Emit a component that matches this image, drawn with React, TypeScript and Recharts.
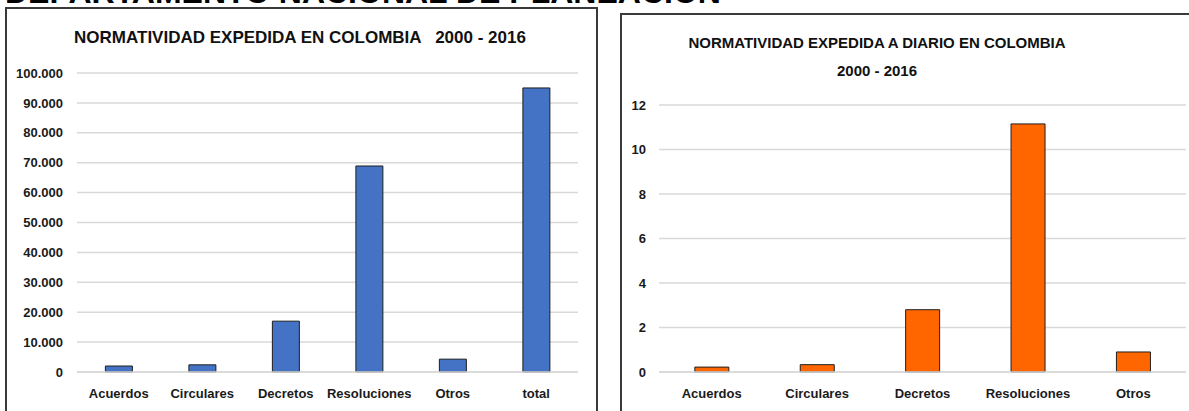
import { BarChart, Bar, XAxis, YAxis, CartesianGrid } from "recharts";

const categories = ["Acuerdos", "Circulares", "Decretos", "Resoluciones", "Otros", "total"];
const totalValues = [2000, 2400, 17000, 68900, 4300, 95000];
const totalTicks = [0, 10000, 20000, 30000, 40000, 50000, 60000, 70000, 80000, 90000, 100000];

const dailyCategories = ["Acuerdos", "Circulares", "Decretos", "Resoluciones", "Otros"];
const dailyValues = [0.22, 0.33, 2.8, 11.15, 0.9];
const dailyTicks = [0, 2, 4, 6, 8, 10, 12];

const totalData = categories.map((name, i) => ({ name, value: totalValues[i] }));
const dailyData = dailyCategories.map((name, i) => ({ name, value: dailyValues[i] }));

const font = "'Liberation Sans Narrow', 'Arial Narrow', sans-serif";
const tickStyle = { fontSize: 13, fill: "#1a1a1a", fontWeight: 700, fontFamily: font };
const fmt = (v: number) => v.toLocaleString("de-DE");

export default function App() {
  return (
    <div
      style={{
        position: "fixed",
        left: 0,
        top: 0,
        width: 1189,
        height: 411,
        overflow: "hidden",
        background: "#fff",
        fontFamily: font,
      }}
    >
      {/* header cut off at top */}
      <div
        style={{
          position: "absolute",
          left: 5,
          top: -24,
          fontSize: 32,
          lineHeight: "32px",
          fontWeight: 700,
          fontFamily: "'Liberation Sans', Arial, sans-serif",
          color: "#000",
          whiteSpace: "nowrap",
        }}
      >
        DEPARTAMENTO NACIONAL DE PLANEACIÓN
      </div>

      {/* panel frames */}
      <div
        style={{
          position: "absolute",
          left: 5,
          top: 7,
          width: 589,
          height: 420,
          border: "2px solid #3a3a3a",
        }}
      />
      <div
        style={{
          position: "absolute",
          left: 620,
          top: 13,
          width: 600,
          height: 420,
          border: "2px solid #3a3a3a",
        }}
      />

      {/* titles */}
      <div
        style={{
          position: "absolute",
          left: 0,
          width: 600,
          top: 28,
          textAlign: "center",
          fontSize: 17,
          fontWeight: 700,
          color: "#111",
          whiteSpace: "pre",
        }}
      >
        {"NORMATIVIDAD EXPEDIDA EN COLOMBIA   2000 - 2016"}
      </div>
      <div
        style={{
          position: "absolute",
          left: 620,
          width: 514,
          top: 29,
          textAlign: "center",
          fontSize: 15,
          lineHeight: "28px",
          fontWeight: 700,
          color: "#111",
        }}
      >
        <div>NORMATIVIDAD EXPEDIDA A DIARIO EN COLOMBIA</div>
        <div>2000 - 2016</div>
      </div>

      {/* left chart */}
      <div style={{ position: "absolute", left: 0, top: 0 }}>
        <BarChart
          width={600}
          height={411}
          data={totalData}
          margin={{ top: 73, right: 22, bottom: 9, left: 17 }}
          barCategoryGap="34%"
        >
          <CartesianGrid vertical={false} stroke="#d9d9d9" strokeWidth={1.5} />
          <XAxis
            dataKey="name"
            tick={tickStyle}
            tickLine={false}
            axisLine={{ stroke: "#d9d9d9", strokeWidth: 1.5 }}
            tickMargin={11}
            interval={0}
          />
          <YAxis
            width={60}
            domain={[0, 100000]}
            ticks={totalTicks}
            tickFormatter={fmt}
            tick={tickStyle}
            tickLine={false}
            axisLine={false}
            tickMargin={8}
            interval={0}
          />
          <Bar dataKey="value" fill="#4472c4" stroke="#1f1f1f" strokeWidth={1} isAnimationActive={false} />
        </BarChart>
      </div>

      {/* right chart */}
      <div style={{ position: "absolute", left: 600, top: 0 }}>
        <BarChart
          width={589}
          height={411}
          data={dailyData}
          margin={{ top: 105, right: 3, bottom: 9, left: 19 }}
          barCategoryGap="34%"
        >
          <CartesianGrid vertical={false} stroke="#d9d9d9" strokeWidth={1.5} />
          <XAxis
            dataKey="name"
            tick={tickStyle}
            tickLine={false}
            axisLine={{ stroke: "#d9d9d9", strokeWidth: 1.5 }}
            tickMargin={11}
            interval={0}
          />
          <YAxis
            width={40}
            domain={[0, 12]}
            ticks={dailyTicks}
            tick={tickStyle}
            tickLine={false}
            axisLine={false}
            tickMargin={7}
            interval={0}
          />
          <Bar dataKey="value" fill="#ff6600" stroke="#1f1f1f" strokeWidth={1} isAnimationActive={false} />
        </BarChart>
      </div>
    </div>
  );
}
